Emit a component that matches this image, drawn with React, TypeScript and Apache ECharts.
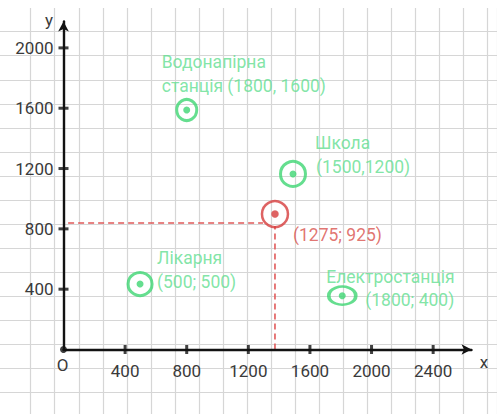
import React, { useEffect, useRef } from 'react';
import * as echarts from 'echarts';

// ---- data ----
const xTicks = [400, 800, 1200, 1600, 2000, 2400];
const yTicks = [400, 800, 1200, 1600, 2000];
const placeNames = ['Водонапірна', 'Школа', 'Лікарня', 'Електростанція'];
const placeCoordText = ['станція (1800, 1600)', '(1500,1200)', '(500; 500)', '(1800; 400)'];
const placeX = [800, 1490, 497, 1810];
const placeY = [1588, 1164, 434, 357];
const centerLabel = '(1275; 925)';
const centerX = 1373;
const centerY = 898;
const guideY = 839;
const guideXStart = 30;
const guideXEnd = 1295;
const guideYEnd = 819;

// ---- layout / style (not data) ----
const ringSizes: any[] = [[20, 21], 25, [24, 23], [27, 18]];
const nameOffsets = [[-25, -48], [22, -31], [17, -26], [-16, -19]];
const coordOffsets = [[-25, -24], [23, -7], [17, -2], [23, 4]];

const GREEN = '#3fd673';
const GREEN_TEXT = '#62de90';
const RED = '#d63c3c';
const RED_TEXT = '#d9514c';
const INK = '#121212';
const LABEL = '#3a3a3a';
const PAPER = '#d6d6d6';
const FONT = 'Roboto';

export default function App() {
  const ref = useRef<HTMLDivElement>(null);
  useEffect(() => {
    const chart = echarts.init(ref.current!, null, { renderer: 'svg' });
    const labelFmt = (v: number) => (v > 0 && v % 400 === 0 ? String(v) : '');
    const option: any = {
      animation: false,
      backgroundColor: '#ffffff',
      grid: [
        { left: 63.5, right: 25.5, top: 21.5, bottom: 64.5, containLabel: false, outerBoundsMode: 'none' },
        { left: 30.7, right: 0, top: 8, bottom: 0, containLabel: false, outerBoundsMode: 'none' },
        { left: 0, right: 0, top: 31.7, bottom: 0, containLabel: false, outerBoundsMode: 'none' },
      ],
      xAxis: [
        {
          gridIndex: 0, type: 'value', min: 0, max: 2649, interval: 400, z: 5,
          axisLine: { show: true, onZero: false, symbol: ['none', 'arrow'], symbolSize: [8, 10], lineStyle: { color: INK, width: 2.4 } },
          axisTick: { show: false },
          splitLine: { show: false },
          axisLabel: { formatter: labelFmt, color: LABEL, fontSize: 17, fontFamily: FONT, margin: 13, showMaxLabel: false },
        },
        {
          gridIndex: 1, type: 'value', min: 0, max: 19.39, interval: 1,
          axisLine: { show: false }, axisTick: { show: false }, axisLabel: { show: false },
          splitLine: { show: true, lineStyle: { color: PAPER, width: 1.2 } },
        },
        { gridIndex: 2, type: 'value', min: 0, max: 1, show: false },
      ],
      yAxis: [
        {
          gridIndex: 0, type: 'value', min: 0, max: 2175, interval: 400, z: 5,
          axisLine: { show: true, onZero: false, symbol: ['none', 'arrow'], symbolSize: [8, 10], lineStyle: { color: INK, width: 2.4 } },
          axisTick: { show: false },
          splitLine: { show: false },
          axisLabel: { formatter: labelFmt, color: LABEL, fontSize: 17, fontFamily: FONT, margin: 10, padding: [8, 0, 0, 0], showMaxLabel: false },
        },
        { gridIndex: 1, type: 'value', min: 0, max: 1, show: false },
        {
          gridIndex: 2, type: 'value', min: 0, max: 15.9, interval: 1, inverse: true,
          axisLine: { show: false }, axisTick: { show: false }, axisLabel: { show: false },
          splitLine: { show: true, lineStyle: { color: PAPER, width: 1.2 } },
        },
      ],
      graphic: [
        { type: 'text', x: 49, y: 20, style: { text: 'y', fill: LABEL, font: `17px ${FONT}`, align: 'center', verticalAlign: 'middle' }, z: 10 },
        { type: 'text', x: 484, y: 362, style: { text: 'x', fill: LABEL, font: `17px ${FONT}`, align: 'center', verticalAlign: 'middle' }, z: 10 },
        { type: 'text', x: 62.7, y: 365, style: { text: 'O', fill: LABEL, font: `17px ${FONT}`, align: 'center', verticalAlign: 'middle' }, z: 10 },
      ],
      series: [
        {
          type: 'scatter', xAxisIndex: 0, yAxisIndex: 0, clip: false, silent: true, z: 6,
          symbol: 'rect', symbolSize: [3, 9], itemStyle: { color: INK },
          data: xTicks.map((v) => [v, 0]),
        },
        {
          type: 'scatter', xAxisIndex: 0, yAxisIndex: 0, clip: false, silent: true, z: 6,
          symbol: 'rect', symbolSize: [10, 3], itemStyle: { color: INK },
          data: yTicks.map((v) => [0, v]),
        },
        {
          type: 'scatter', xAxisIndex: 0, yAxisIndex: 0, clip: false, silent: true, z: 7,
          symbol: 'circle', symbolSize: 7, itemStyle: { color: INK },
          data: [[0, 0]],
        },
        {
          type: 'line', xAxisIndex: 0, yAxisIndex: 0, clip: false, silent: true, symbol: 'none', z: 4,
          lineStyle: { color: '#e05a5a', width: 1.6, type: [6, 4] },
          data: [[guideXStart, guideY], [guideXEnd, guideY]],
        },
        {
          type: 'line', xAxisIndex: 0, yAxisIndex: 0, clip: false, silent: true, symbol: 'none', z: 4,
          lineStyle: { color: '#e05a5a', width: 1.6, type: [6, 4] },
          data: [[centerX, 0], [centerX, guideYEnd]],
        },
        {
          type: 'scatter', xAxisIndex: 0, yAxisIndex: 0, clip: false, silent: true, z: 8,
          symbol: 'circle',
          itemStyle: { color: 'rgba(0,0,0,0)', borderColor: GREEN, borderWidth: 3 },
          label: {
            show: true, position: 'inside', formatter: '{b}', align: 'left', verticalAlign: 'middle',
            color: GREEN_TEXT, fontSize: 17.5, fontFamily: FONT,
          },
          data: placeNames.map((n, i) => ({
            name: n, value: [placeX[i], placeY[i]], symbolSize: ringSizes[i],
            label: { offset: nameOffsets[i] },
          })),
        },
        {
          type: 'scatter', xAxisIndex: 0, yAxisIndex: 0, clip: false, silent: true, z: 8,
          symbol: 'circle', symbolSize: 7, itemStyle: { color: GREEN },
          label: {
            show: true, position: 'inside', formatter: '{b}', align: 'left', verticalAlign: 'middle',
            color: GREEN_TEXT, fontSize: 17.5, fontFamily: FONT,
          },
          data: placeCoordText.map((t, i) => ({
            name: t, value: [placeX[i], placeY[i]],
            label: { offset: coordOffsets[i] },
          })),
        },
        {
          type: 'scatter', xAxisIndex: 0, yAxisIndex: 0, clip: false, silent: true, z: 8,
          symbol: 'circle', symbolSize: 26,
          itemStyle: { color: 'rgba(0,0,0,0)', borderColor: RED, borderWidth: 2.5 },
          data: [[centerX, centerY]],
        },
        {
          type: 'scatter', xAxisIndex: 0, yAxisIndex: 0, clip: false, silent: true, z: 8,
          symbol: 'circle', symbolSize: 7.5, itemStyle: { color: RED },
          label: {
            show: true, position: 'inside', formatter: '{b}', align: 'left', verticalAlign: 'middle',
            color: RED_TEXT, fontSize: 17.5, fontFamily: FONT, offset: [18, 21],
          },
          data: [{ name: centerLabel, value: [centerX, centerY] }],
        },
      ],
    };
    chart.setOption(option);
    return () => chart.dispose();
  }, []);
  return (
    <div
      ref={ref}
      style={{ position: 'fixed', left: 0, top: 0, width: 497, height: 414, background: '#ffffff' }}
    />
  );
}
